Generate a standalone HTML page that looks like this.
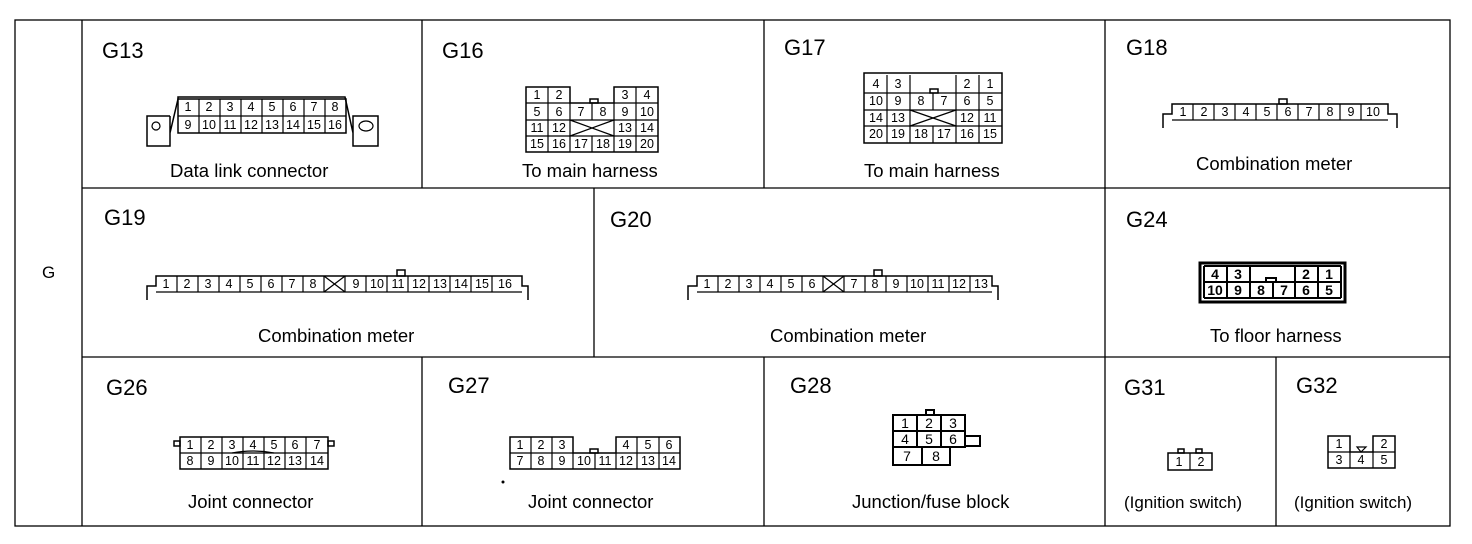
<!DOCTYPE html><html><head><meta charset="utf-8"><style>
body{margin:0;background:#fff}
svg{display:block}
text{font-family:"Liberation Sans",sans-serif;fill:#000}
.t{font-size:22px}
.l{font-size:18.5px}
.n{font-size:12.5px;text-anchor:middle;dominant-baseline:central}
.c{fill:none;stroke:#000;stroke-width:1.5}
.g{fill:none;stroke:#000;stroke-width:1.2}
</style></head><body>
<svg width="1472" height="544" viewBox="0 0 1472 544">
<g class="g" style="stroke-width:1.3">
<rect x="15" y="20" width="1435" height="506"/>
<line x1="82" y1="20" x2="82" y2="526"/>
<line x1="82" y1="188" x2="1450" y2="188"/>
<line x1="82" y1="357" x2="1450" y2="357"/>
<line x1="422" y1="20" x2="422" y2="188"/><line x1="764" y1="20" x2="764" y2="188"/><line x1="1105" y1="20" x2="1105" y2="526"/>
<line x1="594" y1="188" x2="594" y2="357"/>
<line x1="422" y1="357" x2="422" y2="526"/><line x1="764" y1="357" x2="764" y2="526"/><line x1="1276" y1="357" x2="1276" y2="526"/>
</g>
<text x="42" y="278" class="l" style="font-size:17px">G</text>
<text x="102" y="58" class="t">G13</text><text x="442" y="58" class="t">G16</text><text x="784" y="55" class="t">G17</text><text x="1126" y="55" class="t">G18</text>
<text x="104" y="225" class="t">G19</text><text x="610" y="227" class="t">G20</text><text x="1126" y="227" class="t">G24</text>
<text x="106" y="395" class="t">G26</text><text x="448" y="393" class="t">G27</text><text x="790" y="393" class="t">G28</text><text x="1124" y="395" class="t">G31</text><text x="1296" y="393" class="t">G32</text>
<text x="170" y="177" class="l">Data link connector</text><text x="522" y="177" class="l">To main harness</text><text x="864" y="177" class="l">To main harness</text><text x="1196" y="170" class="l">Combination meter</text>
<text x="258" y="342" class="l">Combination meter</text><text x="770" y="342" class="l">Combination meter</text><text x="1210" y="342" class="l">To floor harness</text>
<text x="188" y="508" class="l">Joint connector</text><text x="528" y="508" class="l">Joint connector</text><text x="852" y="508" class="l">Junction/fuse block</text><text x="1124" y="508" class="l" style="font-size:17px">(Ignition switch)</text><text x="1294" y="508" class="l" style="font-size:17px">(Ignition switch)</text>

<!-- G13 -->
<path class="c" d="M170 133 L178 99 L178 97 L345 97 L353 133 M170 116 L147 116 L147 146 L170 146 L170 116 M353 116 L378 116 L378 146 L353 146 Z"/>
<circle class="g" cx="156" cy="126" r="4"/><ellipse class="g" cx="366" cy="126" rx="7" ry="5"/>
<rect class="c" x="178" y="99" width="168" height="34"/><line class="g" x1="178" y1="116" x2="346" y2="116"/>
<g class="g"><line x1="199" y1="99" x2="199" y2="133"/><line x1="220" y1="99" x2="220" y2="133"/><line x1="241" y1="99" x2="241" y2="133"/><line x1="262" y1="99" x2="262" y2="133"/><line x1="283" y1="99" x2="283" y2="133"/><line x1="304" y1="99" x2="304" y2="133"/><line x1="325" y1="99" x2="325" y2="133"/></g>
<g class="n"><text x="188" y="107">1</text><text x="209" y="107">2</text><text x="230" y="107">3</text><text x="251" y="107">4</text><text x="272" y="107">5</text><text x="293" y="107">6</text><text x="314" y="107">7</text><text x="335" y="107">8</text>
<text x="188" y="125">9</text><text x="209" y="125">10</text><text x="230" y="125">11</text><text x="251" y="125">12</text><text x="272" y="125">13</text><text x="293" y="125">14</text><text x="314" y="125">15</text><text x="335" y="125">16</text></g>

<!-- G16 -->
<g class="c"><path d="M526 87 H570 V103 H614 V87 H658 V152 H526 Z"/><rect x="590" y="99" width="8" height="4"/></g>
<g class="g"><line x1="548" y1="87" x2="548" y2="152"/><line x1="570" y1="103" x2="570" y2="152"/><line x1="592" y1="103" x2="592" y2="120"/><line x1="592" y1="136" x2="592" y2="152"/><line x1="614" y1="103" x2="614" y2="152"/><line x1="636" y1="87" x2="636" y2="152"/>
<line x1="526" y1="103" x2="570" y2="103"/><line x1="614" y1="103" x2="658" y2="103"/><line x1="526" y1="120" x2="658" y2="120"/><line x1="526" y1="136" x2="658" y2="136"/><line x1="570" y1="120" x2="614" y2="136"/><line x1="570" y1="136" x2="614" y2="120"/></g>
<g class="n"><text x="537" y="95">1</text><text x="559" y="95">2</text><text x="625" y="95">3</text><text x="647" y="95">4</text>
<text x="537" y="112">5</text><text x="559" y="112">6</text><text x="581" y="112">7</text><text x="603" y="112">8</text><text x="625" y="112">9</text><text x="647" y="112">10</text>
<text x="537" y="128">11</text><text x="559" y="128">12</text><text x="625" y="128">13</text><text x="647" y="128">14</text>
<text x="537" y="144">15</text><text x="559" y="144">16</text><text x="581" y="144">17</text><text x="603" y="144">18</text><text x="625" y="144">19</text><text x="647" y="144">20</text></g>

<!-- G17 -->
<g class="c"><rect x="864" y="73" width="138" height="70"/><rect x="930" y="89" width="8" height="4"/></g>
<g class="g"><line x1="864" y1="93" x2="1002" y2="93"/><line x1="864" y1="110" x2="1002" y2="110"/><line x1="864" y1="126" x2="1002" y2="126"/>
<line x1="887" y1="75" x2="887" y2="143"/><line x1="910" y1="75" x2="910" y2="143"/><line x1="933" y1="93" x2="933" y2="110"/><line x1="933" y1="126" x2="933" y2="143"/><line x1="956" y1="75" x2="956" y2="143"/><line x1="979" y1="75" x2="979" y2="143"/>
<line x1="910" y1="110" x2="956" y2="126"/><line x1="910" y1="126" x2="956" y2="110"/></g>
<g class="n"><text x="876" y="84">4</text><text x="898" y="84">3</text><text x="967" y="84">2</text><text x="990" y="84">1</text>
<text x="876" y="101">10</text><text x="898" y="101">9</text><text x="921" y="101">8</text><text x="944" y="101">7</text><text x="967" y="101">6</text><text x="990" y="101">5</text>
<text x="876" y="118">14</text><text x="898" y="118">13</text><text x="967" y="118">12</text><text x="990" y="118">11</text>
<text x="876" y="134">20</text><text x="898" y="134">19</text><text x="921" y="134">18</text><text x="944" y="134">17</text><text x="967" y="134">16</text><text x="990" y="134">15</text></g>

<!-- G18 -->
<g class="c"><path d="M1163 128 V114 H1172 V104 H1388 V114 H1397 V128"/><rect x="1279" y="99" width="8" height="5"/></g>
<g class="g"><line x1="1172" y1="120" x2="1388" y2="120"/><line x1="1193" y1="104" x2="1193" y2="120"/><line x1="1214" y1="104" x2="1214" y2="120"/><line x1="1235" y1="104" x2="1235" y2="120"/><line x1="1256" y1="104" x2="1256" y2="120"/><line x1="1277" y1="104" x2="1277" y2="120"/><line x1="1298" y1="104" x2="1298" y2="120"/><line x1="1319" y1="104" x2="1319" y2="120"/><line x1="1340" y1="104" x2="1340" y2="120"/><line x1="1361" y1="104" x2="1361" y2="120"/></g>
<g class="n"><text x="1183" y="112">1</text><text x="1204" y="112">2</text><text x="1225" y="112">3</text><text x="1246" y="112">4</text><text x="1267" y="112">5</text><text x="1288" y="112">6</text><text x="1309" y="112">7</text><text x="1330" y="112">8</text><text x="1351" y="112">9</text><text x="1373" y="112">10</text></g>

<!-- G19 -->
<g class="c"><path d="M147 300 V286 H156 V276 H522 V286 H528 V300"/><rect x="397" y="270" width="8" height="6"/></g>
<g class="g"><line x1="156" y1="292" x2="522" y2="292"/>
<line x1="177" y1="276" x2="177" y2="292"/><line x1="198" y1="276" x2="198" y2="292"/><line x1="219" y1="276" x2="219" y2="292"/><line x1="240" y1="276" x2="240" y2="292"/><line x1="261" y1="276" x2="261" y2="292"/><line x1="282" y1="276" x2="282" y2="292"/><line x1="303" y1="276" x2="303" y2="292"/><line x1="324" y1="276" x2="324" y2="292"/><line x1="345" y1="276" x2="345" y2="292"/><line x1="366" y1="276" x2="366" y2="292"/><line x1="387" y1="276" x2="387" y2="292"/><line x1="408" y1="276" x2="408" y2="292"/><line x1="429" y1="276" x2="429" y2="292"/><line x1="450" y1="276" x2="450" y2="292"/><line x1="471" y1="276" x2="471" y2="292"/><line x1="492" y1="276" x2="492" y2="292"/>
<line x1="324" y1="276" x2="345" y2="292"/><line x1="324" y1="292" x2="345" y2="276"/></g>
<g class="n"><text x="166" y="284">1</text><text x="187" y="284">2</text><text x="208" y="284">3</text><text x="229" y="284">4</text><text x="250" y="284">5</text><text x="271" y="284">6</text><text x="292" y="284">7</text><text x="313" y="284">8</text><text x="356" y="284">9</text><text x="377" y="284">10</text><text x="398" y="284">11</text><text x="419" y="284">12</text><text x="440" y="284">13</text><text x="461" y="284">14</text><text x="482" y="284">15</text><text x="505" y="284">16</text></g>

<!-- G20 -->
<g class="c"><path d="M688 300 V286 H697 V276 H992 V286 H998 V300"/><rect x="874" y="270" width="8" height="6"/></g>
<g class="g"><line x1="697" y1="292" x2="992" y2="292"/>
<line x1="718" y1="276" x2="718" y2="292"/><line x1="739" y1="276" x2="739" y2="292"/><line x1="760" y1="276" x2="760" y2="292"/><line x1="781" y1="276" x2="781" y2="292"/><line x1="802" y1="276" x2="802" y2="292"/><line x1="823" y1="276" x2="823" y2="292"/><line x1="844" y1="276" x2="844" y2="292"/><line x1="865" y1="276" x2="865" y2="292"/><line x1="886" y1="276" x2="886" y2="292"/><line x1="907" y1="276" x2="907" y2="292"/><line x1="928" y1="276" x2="928" y2="292"/><line x1="949" y1="276" x2="949" y2="292"/><line x1="970" y1="276" x2="970" y2="292"/>
<line x1="823" y1="276" x2="844" y2="292"/><line x1="823" y1="292" x2="844" y2="276"/></g>
<g class="n"><text x="707" y="284">1</text><text x="728" y="284">2</text><text x="749" y="284">3</text><text x="770" y="284">4</text><text x="791" y="284">5</text><text x="812" y="284">6</text><text x="854" y="284">7</text><text x="875" y="284">8</text><text x="896" y="284">9</text><text x="917" y="284">10</text><text x="938" y="284">11</text><text x="959" y="284">12</text><text x="981" y="284">13</text></g>

<!-- G24 -->
<rect x="1200" y="263" width="145" height="39" fill="none" stroke="#000" stroke-width="3"/>
<g class="g" style="stroke-width:2"><line x1="1204" y1="266" x2="1341" y2="266"/><line x1="1204" y1="282" x2="1341" y2="282"/><line x1="1204" y1="298" x2="1341" y2="298"/>
<line x1="1204" y1="266" x2="1204" y2="298"/><line x1="1341" y1="266" x2="1341" y2="298"/><line x1="1227" y1="266" x2="1227" y2="298"/><line x1="1250" y1="266" x2="1250" y2="298"/><line x1="1273" y1="282" x2="1273" y2="298"/><line x1="1295" y1="266" x2="1295" y2="298"/><line x1="1318" y1="266" x2="1318" y2="298"/><rect x="1266" y="278" width="10" height="4"/></g>
<g class="n" style="font-size:14px;font-weight:bold"><text x="1215" y="274">4</text><text x="1238" y="274">3</text><text x="1306" y="274">2</text><text x="1329" y="274">1</text>
<text x="1215" y="290">10</text><text x="1238" y="290">9</text><text x="1261" y="290">8</text><text x="1284" y="290">7</text><text x="1306" y="290">6</text><text x="1329" y="290">5</text></g>

<!-- G26 -->
<g class="c"><rect x="180" y="437" width="148" height="32"/><rect x="174" y="441" width="6" height="5"/><rect x="328" y="441" width="6" height="5"/></g>
<g class="g"><line x1="180" y1="453" x2="328" y2="453"/><line x1="201" y1="437" x2="201" y2="469"/><line x1="222" y1="437" x2="222" y2="469"/><line x1="243" y1="437" x2="243" y2="469"/><line x1="264" y1="437" x2="264" y2="469"/><line x1="285" y1="437" x2="285" y2="469"/><line x1="306" y1="437" x2="306" y2="469"/><path d="M232 453 Q253 449 274 453"/></g>
<g class="n"><text x="190" y="445">1</text><text x="211" y="445">2</text><text x="232" y="445">3</text><text x="253" y="445">4</text><text x="274" y="445">5</text><text x="295" y="445">6</text><text x="317" y="445">7</text>
<text x="190" y="461">8</text><text x="211" y="461">9</text><text x="232" y="461">10</text><text x="253" y="461">11</text><text x="274" y="461">12</text><text x="295" y="461">13</text><text x="317" y="461">14</text></g>

<!-- G27 -->
<g class="c"><path d="M510 469 V437 H573 V453 H616 V437 H680 V469 Z"/><rect x="590" y="449" width="8" height="4"/></g>
<g class="g"><line x1="510" y1="453" x2="573" y2="453"/><line x1="616" y1="453" x2="680" y2="453"/><line x1="531" y1="437" x2="531" y2="469"/><line x1="552" y1="437" x2="552" y2="469"/><line x1="573" y1="453" x2="573" y2="469"/><line x1="595" y1="453" x2="595" y2="469"/><line x1="616" y1="453" x2="616" y2="469"/><line x1="637" y1="437" x2="637" y2="469"/><line x1="659" y1="437" x2="659" y2="469"/></g>
<g class="n"><text x="520" y="445">1</text><text x="541" y="445">2</text><text x="562" y="445">3</text><text x="626" y="445">4</text><text x="648" y="445">5</text><text x="669" y="445">6</text>
<text x="520" y="461">7</text><text x="541" y="461">8</text><text x="562" y="461">9</text><text x="584" y="461">10</text><text x="605" y="461">11</text><text x="626" y="461">12</text><text x="648" y="461">13</text><text x="669" y="461">14</text></g>
<circle cx="503" cy="482" r="1.5" fill="#000"/>

<!-- G28 -->
<g class="c" style="stroke-width:2"><path d="M893 415 H965 V431 H893 Z M893 431 H965 V447 H893 Z M893 447 H950 V465 H893 Z M965 436 H980 V446 H965"/><rect x="926" y="410" width="8" height="5"/></g>
<g class="g" style="stroke-width:2"><line x1="917" y1="415" x2="917" y2="447"/><line x1="941" y1="415" x2="941" y2="447"/><line x1="922" y1="447" x2="922" y2="465"/></g>
<g class="n" style="font-size:14px"><text x="905" y="423">1</text><text x="929" y="423">2</text><text x="953" y="423">3</text><text x="905" y="439">4</text><text x="929" y="439">5</text><text x="953" y="439">6</text><text x="907" y="456">7</text><text x="936" y="456">8</text></g>

<!-- G31 -->
<g class="c"><rect x="1168" y="453" width="44" height="17"/><rect x="1178" y="449" width="6" height="4"/><rect x="1196" y="449" width="6" height="4"/></g>
<line class="g" x1="1190" y1="453" x2="1190" y2="470"/>
<g class="n"><text x="1179" y="462">1</text><text x="1201" y="462">2</text></g>

<!-- G32 -->
<g class="c"><path d="M1328 468 V436 H1350 V452 H1373 V436 H1395 V468 Z"/></g>
<g class="g"><line x1="1328" y1="452" x2="1350" y2="452"/><line x1="1373" y1="452" x2="1395" y2="452"/><line x1="1350" y1="452" x2="1350" y2="468"/><line x1="1373" y1="452" x2="1373" y2="468"/><path d="M1357 447 H1366 L1361 452 Z"/></g>
<g class="n"><text x="1339" y="444">1</text><text x="1384" y="444">2</text><text x="1339" y="460">3</text><text x="1361" y="460">4</text><text x="1384" y="460">5</text></g>
</svg>
</body></html>
